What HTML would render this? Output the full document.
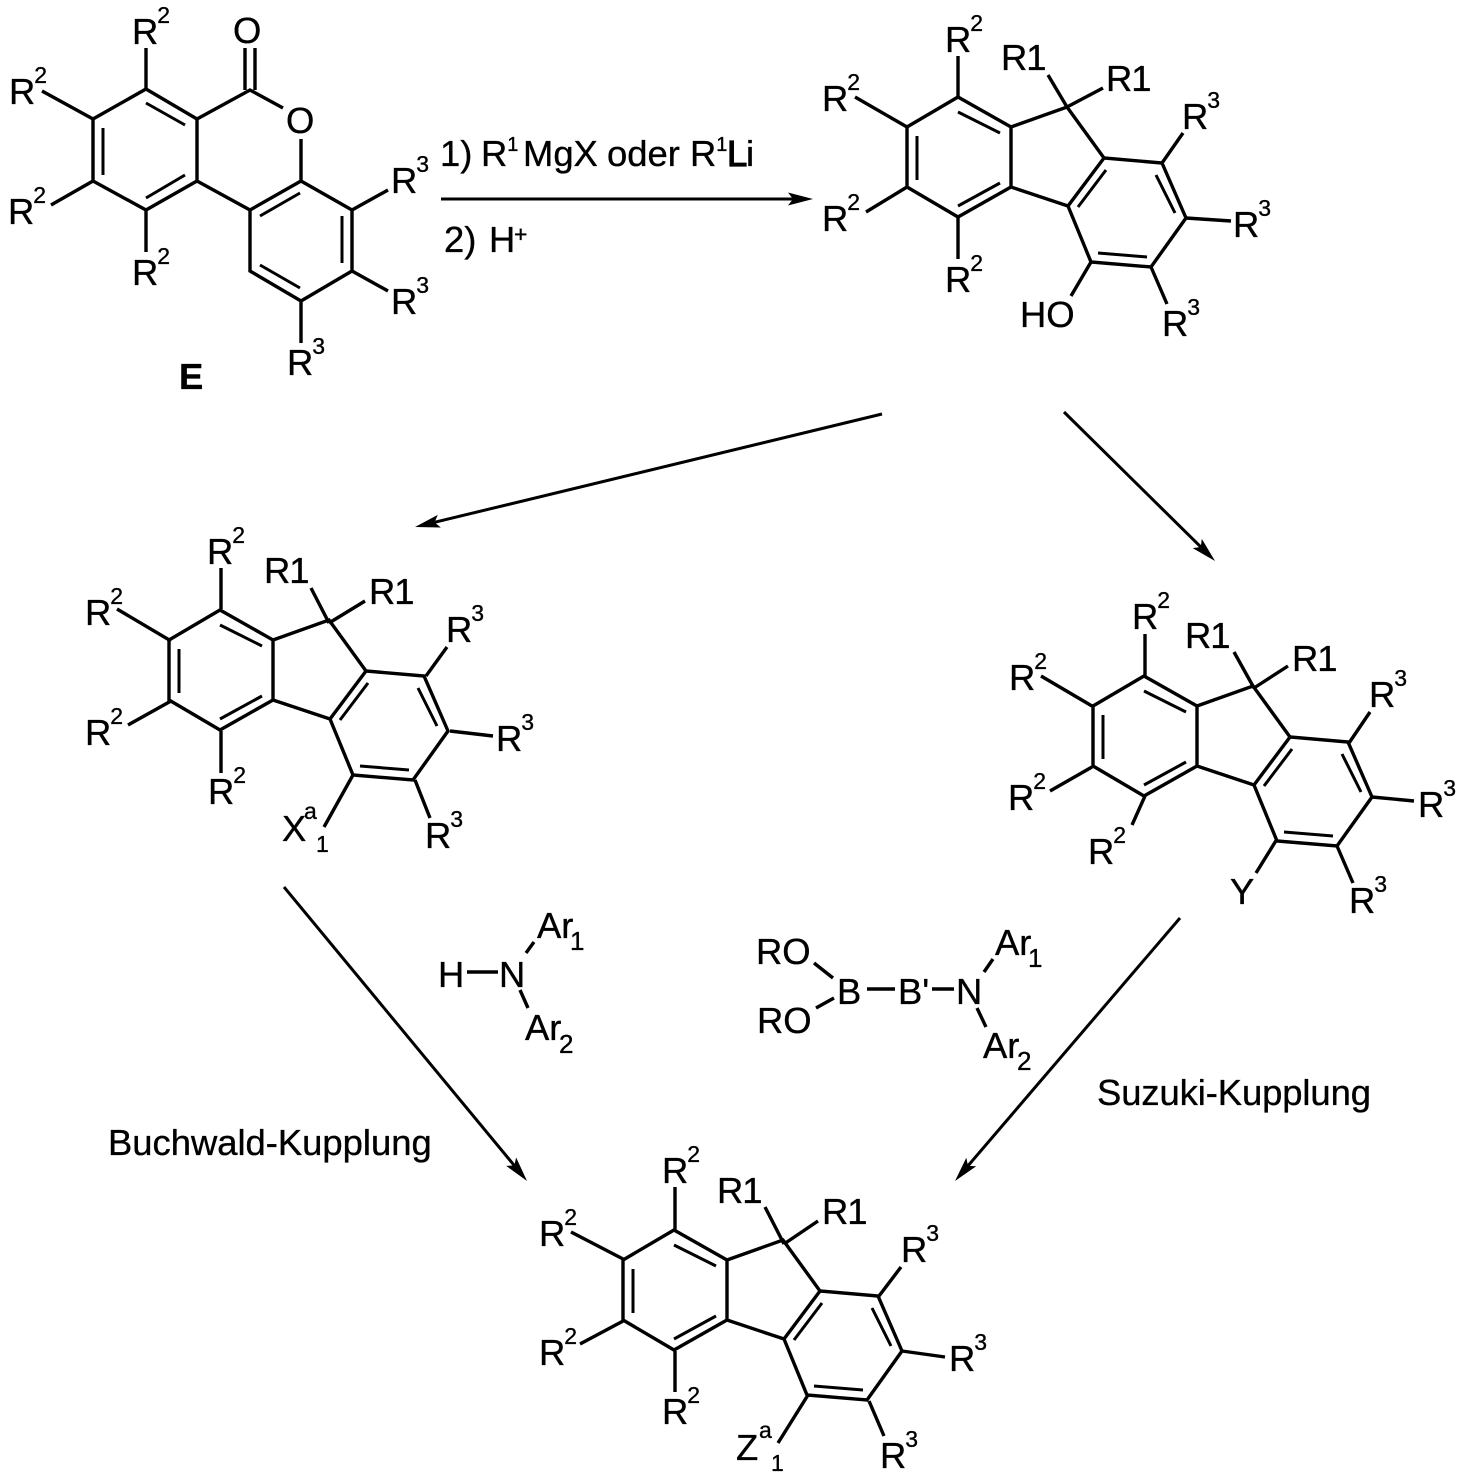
<!DOCTYPE html>
<html><head><meta charset="utf-8"><style>
html,body{margin:0;padding:0;background:#fff}
svg{display:block}
text{font-family:"Liberation Sans",sans-serif;font-size:36.4px;fill:#000;stroke:#000;stroke-width:.35}
tspan.s{font-size:23px}
tspan.t{font-size:20px}
text.m{font-size:23px}
text.n{font-size:26px}
.b{fill:none;stroke:#000;stroke-width:3.4;stroke-linecap:butt;stroke-linejoin:miter}
.i{fill:none;stroke:#000;stroke-width:3}
.a{stroke:#000;stroke-width:3;fill:none;marker-end:url(#h)}
</style></head><body>
<svg xmlns="http://www.w3.org/2000/svg" width="1465" height="1476" viewBox="0 0 1465 1476">
<defs>
<marker id="h" markerUnits="userSpaceOnUse" markerWidth="30" markerHeight="16" refX="13" refY="7" orient="auto"><path d="M0,0.5 L25,7 L0,13.5 L5,7 Z" fill="#000"/></marker>
<g id="core">
<path class="b" d="M958,97L1011,127L1011,187L958,217L907,187L907,127Z M1011,127L1067,107L1104,158L1162,163L1186,218L1151,267L1091,262L1068,206L1104,158 M1011,187L1068,206"/>
<path class="i" d="M958,112L1000,133 M917,136L917,180 M958,206L1000,183 M1078,207L1106,170 M1156,175L1175,213 M1098,253L1147,257"/>
</g>
</defs>

<!-- E -->
<path class="b" d="M146,89L197,119L197,181L146,210L93,181L93,119Z M197,119L250,90L283,108 M245,90L245,48 M255,90L255,48 M301,139L301,181L250,210L197,181 M301,181L352,210L352,271L301,301L250,271L250,210 M146,89L146,48 M93,119L42,91 M93,181L51,205 M146,210L146,252 M352,210L388,190 M352,271L388,291 M301,301L301,343"/>
<path class="i" d="M146,103L185,125 M103,128L103,175 M146,198L185,175 M260,216L300,193 M342,216L342,263 M260,265L300,288"/>
<text x="132" y="44">R<tspan class="s" dx="-1" dy="-21">2</tspan></text>
<text x="9" y="104">R<tspan class="s" dx="-1" dy="-21">2</tspan></text>
<text x="8" y="224">R<tspan class="s" dx="-1" dy="-21">2</tspan></text>
<text x="132" y="285">R<tspan class="s" dx="-1" dy="-21">2</tspan></text>
<text x="233" y="43">O</text>
<text x="286" y="133">O</text>
<text x="391" y="193">R<tspan class="s" dx="-1" dy="-21">3</tspan></text>
<text x="391" y="314">R<tspan class="s" dx="-1" dy="-21">3</tspan></text>
<text x="287" y="375">R<tspan class="s" dx="-1" dy="-21">3</tspan></text>
<text x="179" y="389" font-weight="bold">E</text>

<!-- reaction text -->
<text x="440" y="166">1)</text>
<text x="481" y="166">R<tspan class="t" dx="0" dy="-15">1</tspan></text>
<text x="523" y="166">MgX</text>
<text x="607" y="166">oder</text>
<text x="690" y="166">R<tspan class="t" dx="0" dy="-15">1</tspan></text>
<text x="727" y="166" style="stroke-width:1.2">L</text>
<text x="746" y="166">i</text>
<text x="444" y="252">2)</text>
<text x="489" y="252">H</text>
<text x="514" y="242" class="m">+</text>

<!-- arrows -->
<path class="a" d="M441,199L801,199"/>
<path class="a" d="M882,414L426.7,524.2"/>
<path class="a" d="M1064,412L1206.5,552.6"/>
<path class="a" d="M284,887L519.4,1171.7"/>
<path class="a" d="M1180,918L962.8,1171.9"/>

<!-- top right -->
<use href="#core"/>
<path class="b" d="M958,97L958,56 M907,127L855,97 M907,187L866,212 M958,217L958,259 M1067,107L1048,75 M1067,107L1103,88 M1162,163L1183,133 M1186,218L1231,221 M1151,267L1167,304 M1091,262L1071,296"/>
<text x="945" y="52">R<tspan class="s" dx="-1" dy="-21">2</tspan></text>
<text x="822" y="111">R<tspan class="s" dx="-1" dy="-21">2</tspan></text>
<text x="822" y="231">R<tspan class="s" dx="-1" dy="-21">2</tspan></text>
<text x="945" y="292">R<tspan class="s" dx="-1" dy="-21">2</tspan></text>
<text x="1001" y="70">R<tspan dx="-1">1</tspan></text>
<text x="1106" y="91">R<tspan dx="-1">1</tspan></text>
<text x="1182" y="129">R<tspan class="s" dx="-1" dy="-21">3</tspan></text>
<text x="1233" y="237">R<tspan class="s" dx="-1" dy="-21">3</tspan></text>
<text x="1162" y="336">R<tspan class="s" dx="-1" dy="-21">3</tspan></text>
<text x="1020" y="327">HO</text>

<!-- left -->
<use href="#core" transform="translate(-738,513)"/>
<path class="b" d="M221,609L221,568 M171,641L117,609 M171,701L128,725 M221,731L221,773 M329,623L311,588 M329,623L365,601 M426,676L447,647 M450,731L493,736 M415,780L430,818 M353,775L324,827"/>
<text x="207" y="564">R<tspan class="s" dx="-1" dy="-21">2</tspan></text>
<text x="264" y="583">R<tspan dx="-1">1</tspan></text>
<text x="369" y="604">R<tspan dx="-1">1</tspan></text>
<text x="85" y="625">R<tspan class="s" dx="-1" dy="-21">2</tspan></text>
<text x="85" y="745">R<tspan class="s" dx="-1" dy="-21">2</tspan></text>
<text x="208" y="804">R<tspan class="s" dx="-1" dy="-21">2</tspan></text>
<text x="446" y="642">R<tspan class="s" dx="-1" dy="-21">3</tspan></text>
<text x="496" y="751">R<tspan class="s" dx="-1" dy="-21">3</tspan></text>
<text x="425" y="848">R<tspan class="s" dx="-1" dy="-21">3</tspan></text>
<text x="282" y="841">X</text>
<text x="304" y="819" class="m">a</text>
<text x="316" y="852" class="m">1</text>

<!-- right -->
<use href="#core" transform="translate(186,579)"/>
<path class="b" d="M1145,677L1145,634 M1092,706L1041,676 M1092,767L1050,791 M1145,796L1132,825 M1254,688L1234,652 M1254,688L1288,666 M1349,743L1370,712 M1372,797L1414,801 M1337,846L1353,883 M1277,839L1256,873"/>
<text x="1132" y="629">R<tspan class="s" dx="-1" dy="-21">2</tspan></text>
<text x="1185" y="648">R<tspan dx="-1">1</tspan></text>
<text x="1292" y="671">R<tspan dx="-1">1</tspan></text>
<text x="1009" y="690">R<tspan class="s" dx="-1" dy="-21">2</tspan></text>
<text x="1008" y="810">R<tspan class="s" dx="-1" dy="-21">2</tspan></text>
<text x="1088" y="864">R<tspan class="s" dx="-1" dy="-21">2</tspan></text>
<text x="1369" y="707">R<tspan class="s" dx="-1" dy="-21">3</tspan></text>
<text x="1418" y="817">R<tspan class="s" dx="-1" dy="-21">3</tspan></text>
<text x="1349" y="913">R<tspan class="s" dx="-1" dy="-21">3</tspan></text>
<text x="1230" y="904">Y</text>

<!-- bottom -->
<use href="#core" transform="translate(-284,1133)"/>
<path class="b" d="M675,1230L675,1187 M625,1260L571,1232 M625,1320L580,1344 M675,1351L675,1392 M784,1244L765,1207 M784,1244L818,1221 M879,1296L901,1267 M902,1351L945,1357 M869,1401L884,1436 M808,1395L778,1443"/>
<text x="662" y="1183">R<tspan class="s" dx="-1" dy="-21">2</tspan></text>
<text x="717" y="1203">R<tspan dx="-1">1</tspan></text>
<text x="822" y="1224">R<tspan dx="-1">1</tspan></text>
<text x="539" y="1246">R<tspan class="s" dx="-1" dy="-21">2</tspan></text>
<text x="539" y="1365">R<tspan class="s" dx="-1" dy="-21">2</tspan></text>
<text x="662" y="1424">R<tspan class="s" dx="-1" dy="-21">2</tspan></text>
<text x="901" y="1262">R<tspan class="s" dx="-1" dy="-21">3</tspan></text>
<text x="949" y="1371">R<tspan class="s" dx="-1" dy="-21">3</tspan></text>
<text x="880" y="1468">R<tspan class="s" dx="-1" dy="-21">3</tspan></text>
<text x="736" y="1460">Z</text>
<text x="759" y="1438" class="m">a</text>
<text x="771" y="1471" class="m">1</text>

<!-- middle amines -->
<path class="b" d="M467,972L498,972 M526,953L534,942 M520,990L528,1008 M814,963L833,978 M816,1008L834,998 M867,989L895,989 M932,989L954,989 M984,972L993,959 M977,1008L986,1027"/>
<text x="438" y="987">H</text>
<text x="499" y="987">N</text>
<text x="537" y="938">Ar</text>
<text x="570" y="950" class="n">1</text>
<text x="525" y="1040">Ar</text>
<text x="559" y="1053" class="n">2</text>
<text x="756" y="964">RO</text>
<text x="757" y="1033">RO</text>
<text x="837" y="1004">B</text>
<text x="898" y="1004">B'</text>
<text x="956" y="1004">N</text>
<text x="995" y="955">Ar</text>
<text x="1028" y="967" class="n">1</text>
<text x="983" y="1058">Ar</text>
<text x="1017" y="1070" class="n">2</text>

<text x="108" y="1155">Buchwald-Kupplung</text>
<text x="1097" y="1105" textLength="274">Suzuki-Kupplung</text>
</svg>
</body></html>
